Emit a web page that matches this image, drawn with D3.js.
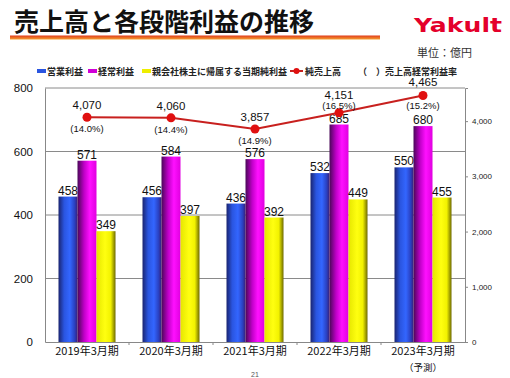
<!DOCTYPE html>
<html><head><meta charset="utf-8">
<script src="https://cdn.jsdelivr.net/npm/d3@7"></script>
<style>body{margin:0;background:#fff}svg{display:block}</style>
</head><body>
<script>
const categories = ["2019年3月期","2020年3月期","2021年3月期","2022年3月期","2023年3月期"];
const subLabels = ["","","","","（予測）"];
const operatingProfit = [458,456,436,532,550];
const ordinaryProfit = [571,584,576,685,680];
const netProfit = [349,397,392,449,455];
const netSales = [4070,4060,3857,4151,4465];
const salesLabels = ["4,070","4,060","3,857","4,151","4,465"];
const ratioLabels = ["(14.0%)","(14.4%)","(14.9%)","(16.5%)","(15.2%)"];
const leftTicks = [0,200,400,600,800];
const rightTicks = [0,1000,2000,3000,4000];
const seriesNames = ["営業利益","経常利益","親会社株主に帰属する当期純利益"];

const W=510,H=378;
const svg=d3.select("body").append("svg").attr("width",W).attr("height",H);
const defs=svg.append("defs");
const jp="'Noto Sans CJK JP','Noto Sans',sans-serif";
const num="'Liberation Sans',Arial,sans-serif";

function grad(id,stops){
  const g=defs.append("linearGradient").attr("id",id).attr("x1","0").attr("x2","1").attr("y1","0").attr("y2","0");
  stops.forEach(s=>g.append("stop").attr("offset",s[0]).attr("stop-color",s[1]));
}
grad("gBlue",[[0,"#1a2470"],[0.3,"#2a55e0"],[0.6,"#3366ff"],[0.85,"#2a40c0"],[1,"#3a1e78"]]);
grad("gMag",[[0,"#4a0858"],[0.35,"#c000c8"],[0.65,"#ff10ff"],[1,"#e000e0"]]);
grad("gYel",[[0,"#e6e600"],[0.45,"#ffff10"],[0.75,"#f2f200"],[1,"#6e6a00"]]);
const ul=defs.append("linearGradient").attr("id","gUl").attr("x1","0").attr("x2","0").attr("y1","0").attr("y2","1");
ul.append("stop").attr("offset",0).attr("stop-color","#e03a1a");
ul.append("stop").attr("offset",1).attr("stop-color","#f5a030");
const fills=["url(#gBlue)","url(#gMag)","url(#gYel)"];
const legendCols=["#2a55e0","#d000d8","#eeee00"];

// Title
svg.append("text").attr("x",14).attr("y",31).attr("font-family",jp).attr("font-weight","bold")
  .attr("font-size",25).attr("fill","#111").text("売上高と各段階利益の推移");
svg.append("rect").attr("x",10).attr("y",35.5).attr("width",370).attr("height",4).attr("fill","url(#gUl)");
svg.append("text").attr("x",414).attr("y",32).attr("font-family","'DejaVu Sans',sans-serif").attr("font-weight","bold")
  .attr("font-size",20).attr("fill","#e4002b").attr("textLength",88).attr("lengthAdjust","spacingAndGlyphs").text("Yakult");
svg.append("text").attr("x",417).attr("y",57).attr("font-family",jp).attr("font-size",11).attr("fill","#333").text("単位：億円");

// Scales
const x0=d3.scaleBand().domain(categories).range([45,465]);
const x1=d3.scaleBand().domain([0,1,2]).range([x0.bandwidth()/2-28.5,x0.bandwidth()/2+28.5]);
const yL=d3.scaleLinear().domain([0,800]).range([342,88]);
const yR=d3.scaleLinear().domain([0,4600]).range([342,88]);

// grid
svg.append("g").selectAll("line").data(leftTicks.slice(1)).join("line")
  .attr("x1",45).attr("x2",465).attr("y1",d=>yL(d)).attr("y2",d=>yL(d)).attr("stroke","#8a8a8a").attr("stroke-width",1);

// left axis
const la=svg.append("g").attr("transform","translate(45,0)").call(d3.axisLeft(yL).tickValues(leftTicks).tickSize(0).tickPadding(12));
la.select(".domain").attr("stroke","#888");
la.selectAll("text").attr("font-family",num).attr("font-size",11.5).attr("fill","#111");
// right axis
const ra=svg.append("g").attr("transform","translate(465,0)").call(d3.axisRight(yR).tickValues(rightTicks).tickSize(3).tickPadding(4).tickFormat(d3.format(",")));
ra.select(".domain").attr("stroke","#888");
ra.selectAll("line").attr("stroke","#888");
ra.selectAll("text").attr("font-family",num).attr("font-size",8).attr("fill","#222");
// bottom axis
const ba=svg.append("g").attr("transform","translate(0,342)").call(d3.axisBottom(x0).tickSize(0).tickPadding(5));
ba.select(".domain").attr("stroke","#888");
ba.selectAll("text").attr("font-family",jp).attr("font-size",11).attr("fill","#111");
svg.append("g").selectAll("line").data(categories.slice(1)).join("line")
  .attr("x1",d=>x0(d)).attr("x2",d=>x0(d)).attr("y1",342).attr("y2",345).attr("stroke","#888");
svg.append("g").selectAll("text").data(categories).join("text")
  .attr("x",d=>x0(d)+x0.bandwidth()/2).attr("y",371).attr("text-anchor","middle")
  .attr("font-family",jp).attr("font-size",9.5).attr("fill","#111").text((d,i)=>subLabels[i]);

// bars
const series=[operatingProfit,ordinaryProfit,netProfit];
series.forEach((vals,s)=>{
  const g=svg.append("g");
  g.selectAll("rect").data(vals).join("rect")
    .attr("x",(d,i)=>x0(categories[i])+x1(s)).attr("width",x1.bandwidth())
    .attr("y",d=>yL(d)).attr("height",d=>342-yL(d)).attr("fill",fills[s]);
  g.selectAll("text").data(vals).join("text")
    .attr("x",(d,i)=>x0(categories[i])+x1(s)+x1.bandwidth()/2).attr("y",d=>yL(d)-2)
    .attr("text-anchor","middle").attr("font-family",num).attr("font-size",12).attr("fill","#111").text(d=>d);
});

// line
const cx=i=>x0(categories[i])+x0.bandwidth()/2;
svg.append("path").datum(netSales).attr("fill","none").attr("stroke","#c8201e").attr("stroke-width",2)
  .attr("d",d3.line().x((d,i)=>cx(i)).y(d=>yR(d)));
svg.append("g").selectAll("circle").data(netSales).join("circle")
  .attr("cx",(d,i)=>cx(i)).attr("cy",d=>yR(d)).attr("r",4.5).attr("fill","#e01010");
const salesDy=[-8,-8,-8,-14,-9];
const ratioDy=[15,15,15,-4,14];
svg.append("g").selectAll("text").data(netSales).join("text")
  .attr("x",(d,i)=>cx(i)).attr("y",(d,i)=>yR(d)+salesDy[i]).attr("text-anchor","middle")
  .attr("font-family",num).attr("font-size",11.5).attr("fill","#111").text((d,i)=>salesLabels[i]);
svg.append("g").selectAll("text").data(netSales).join("text")
  .attr("x",(d,i)=>cx(i)).attr("y",(d,i)=>yR(d)+ratioDy[i]).attr("text-anchor","middle")
  .attr("font-family",num).attr("font-size",9.5).attr("fill","#111").text((d,i)=>ratioLabels[i]);

// legend
const lg=svg.append("g").attr("font-family",jp).attr("font-size",9).attr("font-weight","bold").attr("fill","#222");
const lx=[37,88,142];
seriesNames.forEach((n,i)=>{
  lg.append("rect").attr("x",lx[i]).attr("y",69).attr("width",9).attr("height",4).attr("fill",legendCols[i]);
  lg.append("text").attr("x",lx[i]+10).attr("y",75).text(n);
});
lg.append("line").attr("x1",290).attr("x2",303).attr("y1",71).attr("y2",71).attr("stroke","#c8201e").attr("stroke-width",2);
lg.append("circle").attr("cx",296.5).attr("cy",71).attr("r",3).attr("fill","#e01010");
lg.append("text").attr("x",305).attr("y",75).text("純売上高");
lg.append("text").attr("x",358).attr("y",75).text("（　）売上高経常利益率");

svg.append("text").attr("x",255).attr("y",377).attr("text-anchor","middle").attr("font-family",num).attr("font-size",7).attr("fill","#555").text("21");
</script>
</body></html>
